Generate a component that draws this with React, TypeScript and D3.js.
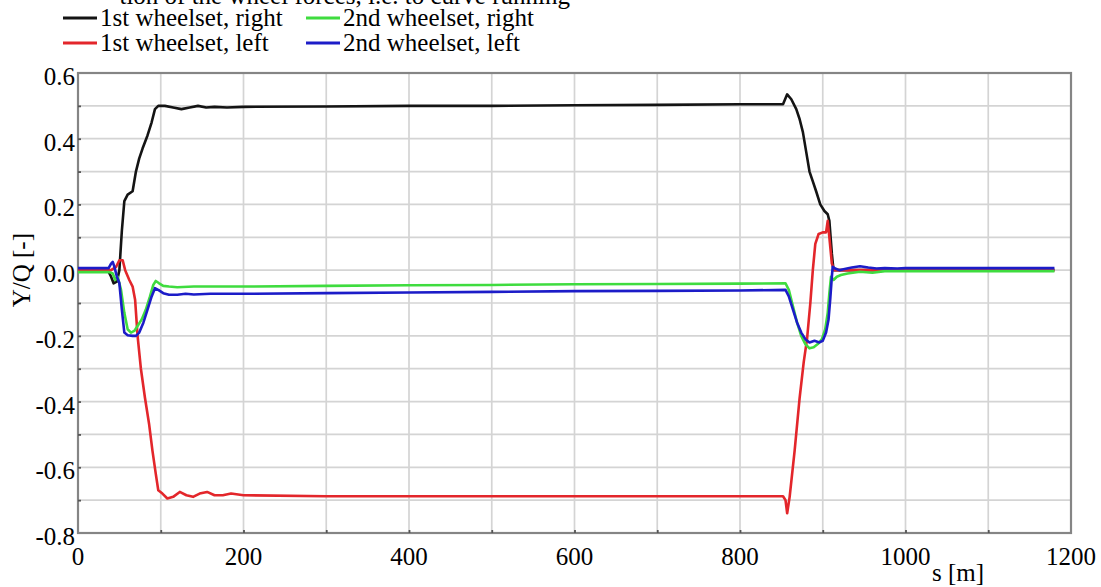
import React, { useEffect, useRef } from "react";
import * as d3 from "d3";

// s [m], Y/Q [-]
const firstRight: [number, number][] = [
  [0, 0], [36, 0], [40, -0.02], [43, -0.04], [47, -0.035], [50, 0.0], [53, 0.12], [56, 0.21],
  [60, 0.23], [66, 0.24], [70, 0.3], [74, 0.34], [78, 0.37], [84, 0.41], [89, 0.45], [93, 0.49],
  [97, 0.5], [105, 0.5], [115, 0.495], [125, 0.49], [135, 0.495], [145, 0.5], [155, 0.495],
  [165, 0.497], [180, 0.495], [200, 0.497], [300, 0.498], [400, 0.5], [500, 0.5], [600, 0.502],
  [700, 0.503], [800, 0.505], [852, 0.505], [857, 0.535], [862, 0.52], [868, 0.49], [872, 0.46],
  [876, 0.42], [880, 0.36], [884, 0.3], [888, 0.27], [892, 0.24], [897, 0.2], [902, 0.18],
  [906, 0.17], [908, 0.15], [911, 0.05], [913, 0.0], [1180, 0.0],
];

const firstLeft: [number, number][] = [
  [0, 0], [40, 0], [46, 0.01], [50, 0.03], [54, 0.03], [57, 0.0], [62, -0.03], [66, -0.05],
  [69, -0.09], [72, -0.2], [76, -0.3], [81, -0.39], [86, -0.47], [90, -0.55], [94, -0.62],
  [97, -0.67], [102, -0.68], [108, -0.695], [115, -0.69], [123, -0.675], [131, -0.685],
  [139, -0.69], [147, -0.68], [156, -0.675], [165, -0.685], [175, -0.685], [185, -0.68],
  [200, -0.685], [300, -0.688], [400, -0.688], [500, -0.688], [600, -0.688], [700, -0.688],
  [800, -0.688], [852, -0.688], [855, -0.7], [857, -0.74], [860, -0.69], [866, -0.55],
  [872, -0.39], [877, -0.28], [881, -0.21], [885, -0.1], [888, 0.0], [891, 0.08], [895, 0.11],
  [900, 0.115], [904, 0.115], [906, 0.15], [908, 0.1], [911, 0.02], [914, 0], [1180, 0],
];

const secondRight: [number, number][] = [
  [0, -0.006], [38, -0.006], [42, -0.01], [45, -0.03], [48, -0.02], [52, -0.06], [56, -0.13],
  [60, -0.18], [64, -0.19], [68, -0.185], [72, -0.17], [77, -0.15], [82, -0.12], [87, -0.08],
  [91, -0.045], [94, -0.033], [98, -0.04], [103, -0.048], [110, -0.05], [120, -0.052],
  [140, -0.05], [160, -0.05], [200, -0.05], [300, -0.048], [400, -0.046], [500, -0.045],
  [600, -0.043], [700, -0.042], [800, -0.041], [855, -0.04], [859, -0.06], [864, -0.11],
  [869, -0.16], [874, -0.2], [879, -0.225], [884, -0.238], [889, -0.235], [894, -0.225],
  [899, -0.21], [903, -0.18], [906, -0.13], [908, -0.07], [910, -0.02], [913, -0.03],
  [917, -0.02], [922, -0.015], [930, -0.01], [945, -0.005], [960, -0.008], [975, -0.003],
  [1000, -0.003], [1100, -0.003], [1180, -0.003],
];

const secondLeft: [number, number][] = [
  [0, 0.006], [37, 0.006], [40, 0.02], [42, 0.025], [44, 0.01], [47, -0.02], [50, -0.04],
  [53, -0.12], [56, -0.19], [60, -0.198], [66, -0.2], [70, -0.2], [74, -0.19], [79, -0.16],
  [84, -0.12], [89, -0.08], [93, -0.055], [97, -0.06], [103, -0.07], [110, -0.075],
  [120, -0.075], [130, -0.072], [140, -0.074], [160, -0.072], [200, -0.072], [300, -0.07],
  [400, -0.068], [500, -0.066], [600, -0.064], [700, -0.063], [800, -0.062], [855, -0.06],
  [859, -0.08], [864, -0.12], [869, -0.16], [874, -0.19], [879, -0.21], [884, -0.22],
  [890, -0.215], [896, -0.22], [900, -0.215], [904, -0.19], [907, -0.15], [909, -0.09],
  [911, -0.02], [912, 0.01], [915, 0.005], [920, 0.0], [925, 0.003], [935, 0.008],
  [945, 0.012], [955, 0.008], [965, 0.005], [975, 0.006], [990, 0.005], [1000, 0.006],
  [1100, 0.006], [1180, 0.006],
];

const seriesNames = ["1st wheelset, right", "1st wheelset, left", "2nd wheelset, right", "2nd wheelset, left"];
const seriesColors = ["#141414", "#e3262b", "#3fdc3f", "#1c1cc8"];
const xTickLabels = [0, 200, 400, 600, 800, 1000, 1200];
const yTickLabels = [0.6, 0.4, 0.2, 0.0, -0.2, -0.4, -0.6, -0.8];

const W = 1101;
const H = 587;
const m = { left: 78, right: 1071, top: 73, bottom: 533 };
const serif = "'Liberation Serif', 'Times New Roman', serif";

export default function App() {
  const svgRef = useRef<SVGSVGElement>(null);

  useEffect(() => {
    const svg = d3.select(svgRef.current);
    svg.selectAll("*").remove();

    const x = d3.scaleLinear().domain([0, 1200]).range([m.left, m.right]);
    const y = d3.scaleLinear().domain([-0.8, 0.6]).range([m.bottom, m.top]);

    svg.append("rect").attr("width", W).attr("height", H).attr("fill", "#fff");

    // clipped caption line from the page above
    svg.append("text")
      .attr("x", 570).attr("y", 4)
      .attr("text-anchor", "end")
      .style("font-family", serif).style("font-size", "25px")
      .text("tion of the wheel forces, i.e. to curve running");

    // grid
    const g = svg.append("g");
    g.selectAll("line.vx")
      .data(d3.range(100, 1200, 100))
      .enter().append("line")
      .attr("x1", (d) => x(d)).attr("x2", (d) => x(d))
      .attr("y1", m.top).attr("y2", m.bottom)
      .attr("stroke", "#d4d4d4").attr("stroke-width", 1.7);
    g.selectAll("line.hy")
      .data(d3.range(-7, 6).map((i) => i / 10))
      .enter().append("line")
      .attr("x1", m.left).attr("x2", m.right)
      .attr("y1", (d) => y(d)).attr("y2", (d) => y(d))
      .attr("stroke", "#d4d4d4").attr("stroke-width", 1.7);

    // frame
    svg.append("rect")
      .attr("x", m.left).attr("y", m.top)
      .attr("width", m.right - m.left).attr("height", m.bottom - m.top)
      .attr("fill", "none").attr("stroke", "#858585").attr("stroke-width", 2.2);

    // small ticks
    const xAxis = d3.axisBottom(x).tickValues(d3.range(100, 1200, 100)).tickSize(-3).tickFormat(() => "");
    svg.append("g").attr("transform", `translate(0,${m.bottom})`).call(xAxis)
      .call((s) => s.select(".domain").remove())
      .call((s) => s.selectAll("line").attr("stroke", "#555").attr("stroke-width", 1.8));
    const yAxis = d3.axisLeft(y).tickValues(d3.range(-7, 6).map((i) => i / 10)).tickSize(-3).tickFormat(() => "");
    svg.append("g").attr("transform", `translate(${m.left},0)`).call(yAxis)
      .call((s) => s.select(".domain").remove())
      .call((s) => s.selectAll("line").attr("stroke", "#555").attr("stroke-width", 1.8));

    // tick labels
    svg.append("g").selectAll("text")
      .data(xTickLabels)
      .enter().append("text")
      .attr("x", (d) => x(d)).attr("y", m.bottom + 32)
      .attr("text-anchor", "middle")
      .style("font-family", serif).style("font-size", "25px")
      .text((d) => String(d));
    svg.append("g").selectAll("text")
      .data(yTickLabels)
      .enter().append("text")
      .attr("x", m.left - 3).attr("y", (d) => y(d) + 12)
      .attr("text-anchor", "end")
      .style("font-family", serif).style("font-size", "25px")
      .text((d) => d3.format(".1f")(d).replace("−", "-"));

    svg.append("text")
      .attr("x", 958).attr("y", 581)
      .attr("text-anchor", "middle")
      .style("font-family", serif).style("font-size", "25px")
      .text("s [m]");
    svg.append("text")
      .attr("transform", `translate(30,${y(0)}) rotate(-90)`)
      .attr("text-anchor", "middle")
      .style("font-family", serif).style("font-size", "25px")
      .text("Y/Q [-]");

    // lines
    const line = d3.line<[number, number]>()
      .x((d) => x(d[0]))
      .y((d) => y(d[1]));
    const all = [firstRight, firstLeft, secondRight, secondLeft];
    svg.append("g").selectAll("path")
      .data(all)
      .enter().append("path")
      .attr("d", (d) => line(d))
      .attr("fill", "none")
      .attr("stroke", (_, i) => seriesColors[i])
      .attr("stroke-width", 2.6)
      .attr("stroke-linejoin", "round");

    // legend
    const legendPos = [
      { x: 63, y: 18 }, { x: 63, y: 43 }, { x: 306, y: 18 }, { x: 306, y: 43 },
    ];
    const leg = svg.append("g").selectAll("g")
      .data(seriesNames)
      .enter().append("g")
      .attr("transform", (_, i) => `translate(${legendPos[i].x},${legendPos[i].y})`);
    leg.append("line")
      .attr("x1", 0).attr("x2", 34).attr("y1", 0).attr("y2", 0)
      .attr("stroke", (_, i) => seriesColors[i]).attr("stroke-width", 3);
    leg.append("text")
      .attr("x", 37).attr("y", 8)
      .style("font-family", serif).style("font-size", "25px")
      .text((d) => d);
  }, []);

  return (
    <div style={{ position: "absolute", left: 0, top: 0 }}>
      <svg ref={svgRef} width={W} height={H} />
    </div>
  );
}
